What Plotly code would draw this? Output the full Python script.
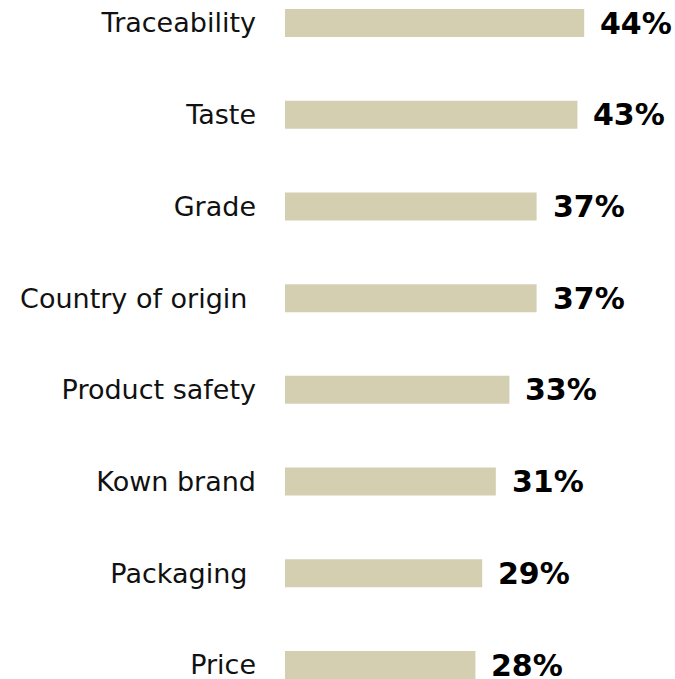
import plotly.graph_objects as go

# Purchase drivers, listed bottom to top
categories = ["Price", "Packaging\u00a0", "Kown brand", "Product safety",
              "Country of origin\u00a0", "Grade", "Taste", "Traceability"]
values = [28, 29, 31, 33, 37, 37, 43, 44]
value_labels = [f"{v}%" for v in values]

bar_color = "#d4cfb1"

fig = go.Figure(
    go.Bar(
        x=values,
        y=categories,
        orientation="h",
        marker=dict(color=bar_color, line=dict(width=0)),
        width=0.305,
        hoverinfo="skip",
    )
)

for cat, v, lab in zip(categories, values, value_labels):
    fig.add_annotation(
        x=v, y=cat, xref="x", yref="y",
        text=f"<b>{lab}</b>", showarrow=False,
        xanchor="left", yanchor="middle", xshift=14,
        font=dict(family="DejaVu Sans", size=30, color="#000000"),
    )

fig.update_layout(
    width=675, height=679,
    margin=dict(l=285, r=0, t=0, b=0),
    paper_bgcolor="white", plot_bgcolor="white",
    showlegend=False,
    font=dict(family="DejaVu Sans", color="#111111"),
)
fig.update_xaxes(range=[0, 57.35], visible=False, fixedrange=True)
fig.update_yaxes(
    range=[-0.1527, 7.2508],
    showgrid=False, zeroline=False, showline=False, ticks="",
    ticklabelstandoff=28,
    tickfont=dict(family="DejaVu Sans", size=27, color="#111111"),
    fixedrange=True,
)

fig.write_html("out.html")
